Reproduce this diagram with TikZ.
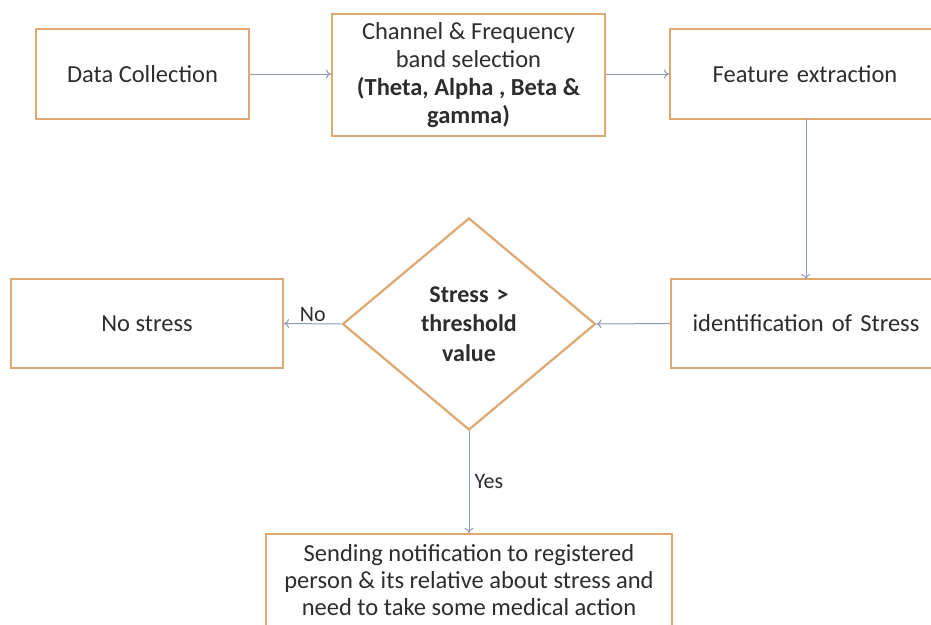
\documentclass[tikz,border=0pt]{standalone}
\usepackage{fontspec}
\setmainfont{Carlito}
\usetikzlibrary{shapes.geometric,arrows.meta}
\definecolor{boxline}{RGB}{222,168,112}
\definecolor{arrowc}{RGB}{140,155,178}
\definecolor{txt}{RGB}{45,45,45}
\tikzset{
  procbox/.style={draw=boxline, line width=2.2pt, fill=white, rectangle, inner sep=0pt,
    align=center, text=txt, font=\fontsize{24.5}{28}\selectfont},
  decision/.style={draw=boxline, line width=2.2pt, fill=white, diamond, inner sep=0pt,
    align=center, text=txt, font=\fontsize{24}{29.5}\selectfont\bfseries, aspect=1.19},
  flowarrow/.style={draw=arrowc, line width=1pt, -{To[length=5pt,width=9pt]}},
  lbl/.style={text=txt, font=\fontsize{22}{26}\selectfont, inner sep=1pt}
}
\begin{document}
\begin{tikzpicture}[x=1pt,y=-1pt]
\useasboundingbox (0,0) rectangle (931,624);
\fill[white] (0,0) rectangle (931,624);
\begin{scope}
\clip (0,0) rectangle (931,624);
\node[procbox, minimum width=213pt, minimum height=90pt] (dc) at (142.5,74) {Data Collection};
\node[procbox, minimum width=273pt, minimum height=122pt] (ch) at (468.5,75)
  {Channel \& Frequency\\band selection\\\textbf{(Theta, Alpha , Beta \&}\\\textbf{gamma)}};
\node[procbox, minimum width=290pt, minimum height=90pt, text width=270pt] (fe) at (815,74) {\hspace*{-20pt}Feature extraction};
\node[procbox, minimum width=290pt, minimum height=89pt, text width=270pt] (id) at (816,323.5) {\hspace*{-20pt}identification of Stress};
\node[decision, minimum width=253pt, minimum height=212pt, text width=110pt] (dec) at (469,324)
  {Stress >\\threshold\\value};
\node[procbox, minimum width=272pt, minimum height=89pt] (ns) at (147,323.5) {No stress};
\node[procbox, minimum width=406pt, minimum height=92pt, font=\fontsize{24.5}{27}\selectfont] (nt) at (469,580)
  {Sending notification to registered\\person \& its relative about stress and\\need to take some medical action};
\coordinate (feS) at (806,119);
\coordinate (idN) at (806,279);
\draw[flowarrow] (dc.east) -- (ch.west |- dc.east);
\draw[flowarrow] (ch.east |- dc.east) -- (fe.west);
\draw[flowarrow] (feS) -- (idN);
\draw[flowarrow] (id.west) -- (dec.east);
\draw[flowarrow] (dec.west) -- node[lbl, above=1pt] (no) {No} (ns.east);
\draw[flowarrow] (dec.south) -- node[lbl, right=4pt, pos=0.5] (yes) {Yes} (nt.north);
\end{scope}
\end{tikzpicture}
\end{document}
